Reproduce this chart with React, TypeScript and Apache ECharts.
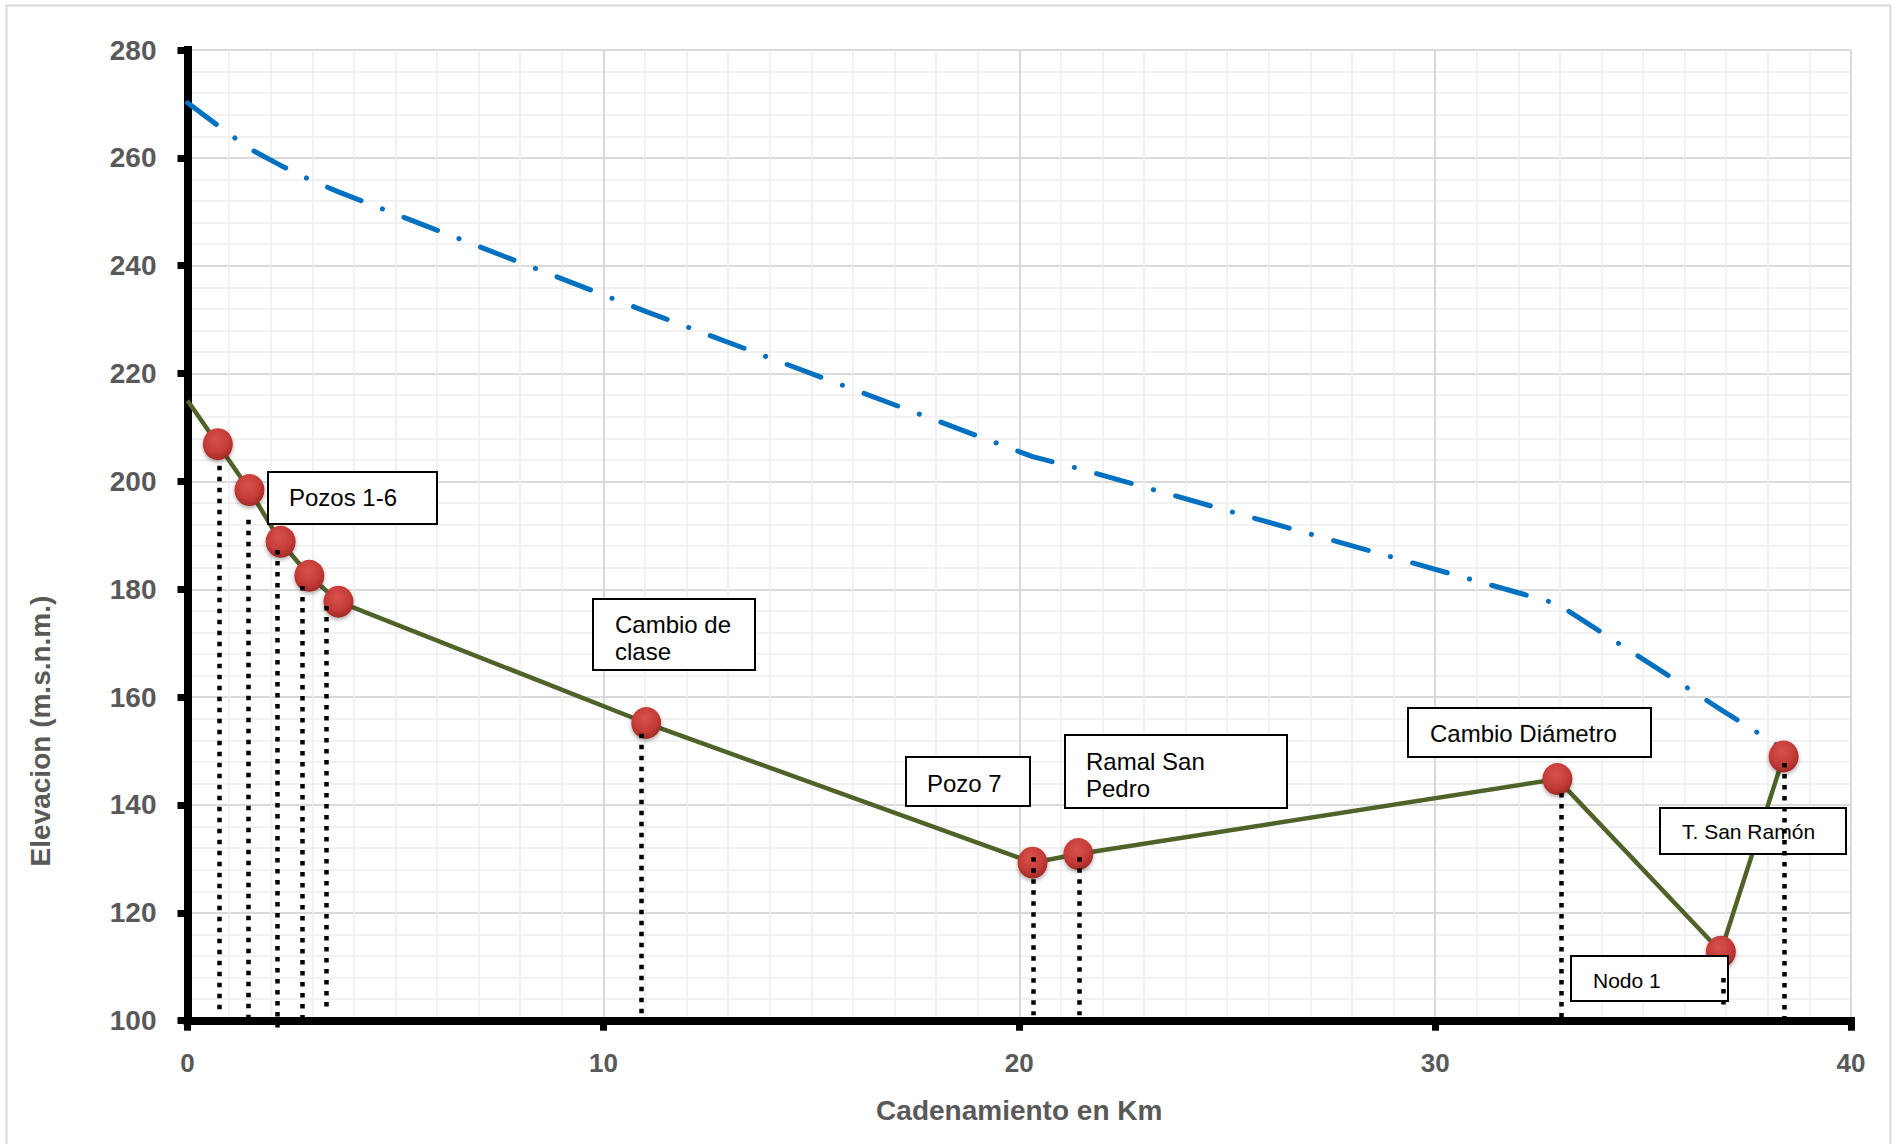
import React, { useEffect, useRef } from 'react';
import * as echarts from 'echarts';

// ---- data ----
const stationKm = [0, 0.73, 1.49, 2.24, 2.93, 3.63, 11.03, 20.32, 21.42, 32.94, 36.87, 38.38];
const groundElev = [215, 206.9, 198.4, 188.8, 182.5, 177.7, 155.2, 129.3, 130.9, 144.8, 112.8, 149.0];
const gradeElev = [270.2, 266.0, 261.7, 258.6, 256.0, 253.7, 231.5, 204.6, 202.4, 177.3, 157.7, 150.4];
const hasMarker = [false, true, true, true, true, true, true, true, true, true, true, true];

const dropKm = [0.77, 1.45, 2.15, 2.77, 3.33, 10.92, 20.34, 21.44, 33.03, 36.93, 38.39];
const dropTop = [202.9, 192.9, 187.3, 180.6, 176.9, 153.2, 130.3, 130.3, 142.2, 107.9, 147.8];
const dropBottom = [101.5, 99.4, 98.0, 99.4, 101.8, 98.3, 101.0, 101.0, 99.6, 101.9, 98.9];

const xMin = 0, xMax = 40, xStep = 10, xMinorSplit = 10;
const yMin = 100, yMax = 280, yStep = 20, yMinorSplit = 5;

const xTitle = 'Cadenamiento en Km';
const yTitle = 'Elevacion (m.s.n.m.)';

const noteTexts = ['Pozos 1-6', 'Cambio de\nclase', 'Pozo 7', 'Ramal San\nPedro', 'Cambio Diámetro', 'T. San Ramón', 'Nodo 1'];

// ---- layout of annotation boxes (pixels) ----
const noteBoxes = [
  { x: 268, y: 472, w: 169, h: 52, tx: 289, ty: 497, fs: 24 },
  { x: 593, y: 599, w: 162, h: 71, tx: 615, ty: 638, fs: 24 },
  { x: 906, y: 757, w: 124, h: 49, tx: 927, ty: 783, fs: 24 },
  { x: 1065, y: 735, w: 222, h: 73, tx: 1086, ty: 775, fs: 24 },
  { x: 1408, y: 708, w: 243, h: 49, tx: 1430, ty: 733, fs: 24 },
  { x: 1660, y: 808, w: 186, h: 46, tx: 1682, ty: 831, fs: 21 },
  { x: 1571, y: 956, w: 157, h: 45, tx: 1593, ty: 980, fs: 21 },
];

const FONT = '"Liberation Sans", Arial, sans-serif';
const GRAY = '#595959';

export default function App() {
  const ref = useRef<HTMLDivElement>(null);

  useEffect(() => {
    if (!ref.current) return;
    const chart = echarts.init(ref.current, undefined, { renderer: 'svg' });

    const markerColor = new echarts.graphic.RadialGradient(0.45, 0.35, 0.7, [
      { offset: 0, color: '#d8524d' },
      { offset: 0.6, color: '#c43b37' },
      { offset: 1, color: '#982622' },
    ]);

    const graphics: any[] = [
      {
        type: 'rect',
        z: -1,
        shape: { x: 6.5, y: 5.5, width: 1884, height: 1150 },
        style: { fill: 'none', stroke: '#d9d9d9', lineWidth: 2 },
        silent: true,
      },
      {
        type: 'text',
        z: 5,
        x: 40,
        y: 731,
        rotation: Math.PI / 2,
        style: {
          text: yTitle,
          font: `bold 28px ${FONT}`,
          fill: GRAY,
          align: 'center',
          verticalAlign: 'middle',
        },
      },
    ];

    noteTexts.forEach((t, i) => {
      const b = noteBoxes[i];
      graphics.push({
        type: 'rect',
        z: 4,
        shape: { x: b.x, y: b.y, width: b.w, height: b.h },
        style: { fill: '#ffffff', stroke: '#000000', lineWidth: 2 },
      });
      graphics.push({
        type: 'text',
        z: 4,
        x: b.tx,
        y: b.ty,
        style: {
          text: t,
          font: `${b.fs}px ${FONT}`,
          fill: '#000000',
          align: 'left',
          verticalAlign: 'middle',
          lineHeight: 27,
        },
      });
    });

    const option: any = {
      animation: false,
      backgroundColor: '#ffffff',
      grid: { left: 187.5, right: 49, top: 50, bottom: 123.3, containLabel: false },
      xAxis: {
        type: 'value',
        min: xMin,
        max: xMax,
        interval: xStep,
        name: xTitle,
        nameLocation: 'middle',
        nameGap: 76,
        nameTextStyle: { fontFamily: FONT, fontWeight: 'bold', fontSize: 28, color: GRAY },
        axisLine: { show: true, onZero: false, lineStyle: { color: '#000', width: 8, cap: 'square' } },
        axisTick: { show: true, inside: false, length: 10, lineStyle: { color: '#000', width: 7 } },
        axisLabel: { margin: 29, fontFamily: FONT, fontWeight: 'bold', fontSize: 26, color: GRAY },
        splitLine: { show: true, lineStyle: { color: '#d9d9d9', width: 2 } },
        minorTick: { show: false, splitNumber: xMinorSplit },
        minorSplitLine: { show: true, lineStyle: { color: '#ececec', width: 1.5 } },
      },
      yAxis: {
        type: 'value',
        min: yMin,
        max: yMax,
        interval: yStep,
        axisLine: { show: true, onZero: false, lineStyle: { color: '#000', width: 8, cap: 'square' } },
        axisTick: { show: true, inside: false, length: 10, lineStyle: { color: '#000', width: 7 } },
        axisLabel: { margin: 31, fontFamily: FONT, fontWeight: 'bold', fontSize: 28, color: GRAY },
        splitLine: { show: true, lineStyle: { color: '#d9d9d9', width: 2 } },
        minorTick: { show: false, splitNumber: yMinorSplit },
        minorSplitLine: { show: true, lineStyle: { color: '#ececec', width: 1.5 } },
      },
      graphic: { elements: graphics },
      series: [
        {
          name: 'Línea de gradiente',
          type: 'line',
          z: 2,
          showSymbol: false,
          symbol: 'none',
          data: stationKm.map((k, i) => [k, gradeElev[i]]),
          lineStyle: { color: '#0070C0', width: 5, type: [36, 23, 0.1, 23], cap: 'round' },
          silent: true,
        },
        {
          name: 'Terreno',
          type: 'line',
          z: 3,
          data: stationKm.map((k, i) =>
            hasMarker[i]
              ? { value: [k, groundElev[i]] }
              : { value: [k, groundElev[i]], symbol: 'none' }
          ),
          symbol: 'circle',
          symbolSize: [30, 32],
          showSymbol: true,
          lineStyle: { color: '#4F6228', width: 4.5 },
          itemStyle: {
            color: markerColor,
            shadowBlur: 4,
            shadowColor: 'rgba(0,0,0,0.35)',
            shadowOffsetY: 2,
          },
          silent: true,
        },
        {
          name: 'Referencias',
          type: 'lines',
          coordinateSystem: 'cartesian2d',
          z: 6,
          clip: false,
          silent: true,
          lineStyle: { color: '#000000', width: 4.5, type: [4.5, 6.5], cap: 'butt', opacity: 1, curveness: 0 },
          data: dropKm.map((k, i) => ({ coords: [[k, dropTop[i]], [k, dropBottom[i]]] })),
        },
      ],
    };

    chart.setOption(option);
    return () => chart.dispose();
  }, []);

  return (
    <div
      ref={ref}
      style={{ position: 'absolute', left: 0, top: 0, width: 1900, height: 1144, background: '#fff' }}
    />
  );
}
